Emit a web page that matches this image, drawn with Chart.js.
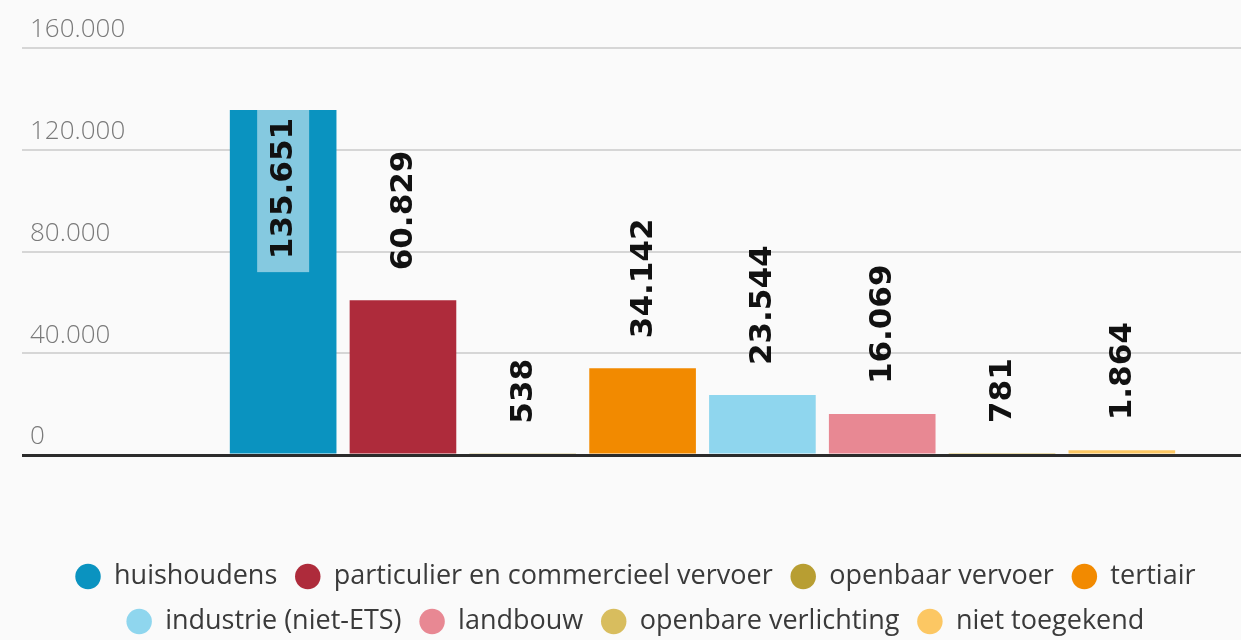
<!DOCTYPE html>
<html>
<head>
  <meta charset="utf-8">
  <title>Uitstoot per sector</title>
  <script src="https://cdn.jsdelivr.net/npm/chart.js"></script>
  <style>
    html, body {
      margin: 0;
      padding: 0;
      background-color: #fafafa;
      overflow: hidden;
    }
    .wrap {
      position: relative;
      width: 1241px;
      height: 645px;
    }
  </style>
</head>
<body>

<div class="wrap">
  <canvas id="sectorChart"></canvas>
</div>

<script>
  const seriesNames = [
    'huishoudens',
    'particulier en commercieel vervoer',
    'openbaar vervoer',
    'tertiair',
    'industrie (niet-ETS)',
    'landbouw',
    'openbare verlichting',
    'niet toegekend'
  ];
  const seriesValues = [135651, 60829, 538, 34142, 23544, 16069, 781, 1864];
  const seriesColors = ['#0a93c0', '#ae2b3b', '#b89e32', '#f28a00', '#8fd6ee', '#e88893', '#d8bd5e', '#fcc763'];
  const yTicks = [0, 40000, 80000, 120000, 160000];

  // punt als duizendtal-scheiding
  function fmt(v) {
    return String(v).replace(/\B(?=(\d{3})+(?!\d))/g, '.');
  }

  const valueLabels = {
    id: 'valueLabels',
    afterDatasetsDraw(chart) {
      const ctx = chart.ctx;
      ctx.save();
      ctx.font = 'bold 31px "DejaVu Sans"';
      chart.data.datasets.forEach((ds, i) => {
        const bar = chart.getDatasetMeta(i).data[0];
        const text = fmt(ds.data[0]);
        const w = ctx.measureText(text).width;
        let start = bar.y - 30;
        if (start - w < 0) {
          // past de tekst niet boven de balk, dan erin
          ctx.fillStyle = 'rgba(255,255,255,0.5)';
          ctx.fillRect(bar.x - 26, bar.y, 52, w + 21);
          start = bar.y + 8 + w;
        }
        ctx.save();
        ctx.translate(bar.x, start);
        ctx.rotate(-Math.PI / 2);
        ctx.textAlign = 'left';
        ctx.textBaseline = 'middle';
        ctx.fillStyle = '#111';
        ctx.fillText(text, 0, 1);
        ctx.restore();
      });
      ctx.restore();
    }
  };

  const ctx = document.getElementById('sectorChart').getContext('2d');
  new Chart(ctx, {
    type: 'bar',
    data: {
      labels: [''],
      datasets: seriesNames.map((name, i) => ({
        label: name,
        data: [seriesValues[i]],
        backgroundColor: seriesColors[i],
        borderWidth: 0,
        categoryPercentage: 0.89,
        barPercentage: 0.89
      }))
    },
    plugins: [valueLabels],
    options: {
      responsive: true,
      maintainAspectRatio: false,
      animation: false,
      layout: {
        padding: { left: 30, top: 48, right: 0, bottom: 0 }
      },
      plugins: {
        legend: {
          position: 'bottom',
          labels: {
            usePointStyle: true,
            pointStyle: 'circle',
            boxWidth: 25,
            boxHeight: 18,
            padding: 18,
            color: '#3a3a3a',
            font: { family: '"Open Sans", sans-serif', size: 27 }
          }
        },
        tooltip: { enabled: false }
      },
      scales: {
        x: {
          grid: { display: false },
          border: { display: false },
          ticks: { display: false },
          afterFit(scale) { scale.height = 90; }
        },
        y: {
          min: 0,
          max: 160000,
          afterBuildTicks(scale) {
            scale.ticks = yTicks.map(v => ({ value: v }));
          },
          afterFit(scale) { scale.width = 134; },
          border: { display: false },
          grid: {
            color: c => c.tick && c.tick.value === 0 ? '#2b2b2b' : '#d6d6d6',
            lineWidth: c => c.tick && c.tick.value === 0 ? 3 : 2,
            tickLength: 142
          },
          ticks: {
            crossAlign: 'far',
            padding: 0,
            labelOffset: -18,
            color: '#7a7a7a',
            font: { family: '"Open Sans", sans-serif', size: 26, weight: '300' },
            callback: v => fmt(v)
          }
        }
      }
    }
  });
</script>

</body>
</html>
